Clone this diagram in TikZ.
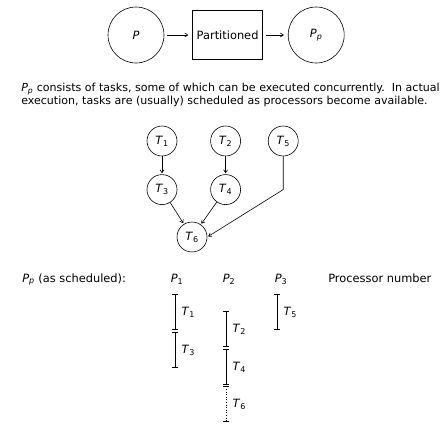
\documentclass[tikz,border=0pt]{standalone}
\usepackage{fontspec}
\setmainfont{DejaVu Sans}
\usepackage{tikz}
\usetikzlibrary{arrows.meta, positioning}

\newcommand{\lab}[2]{\textit{#1}\textsubscript{#2}}

\begin{document}
\begin{tikzpicture}[
  x=1pt, y=-1pt, line width=0.6pt,
  every node/.style={font=\fontsize{11.4}{12.5}\selectfont},
  proc/.style={draw, circle, minimum size=56pt, inner sep=0pt},
  part/.style={draw, rectangle, minimum width=70pt, minimum height=49pt},
  task/.style={draw, circle, minimum size=30pt, inner sep=0pt},
  flow/.style={-{Straight Barb[length=3pt,width=4pt]}, shorten <=3pt, shorten >=4pt},
  dep/.style={-{Straight Barb[length=3pt,width=4pt]}, shorten >=1pt},
  slot/.style={{Bar[width=6pt]}-{Bar[width=6pt]}}
]
\useasboundingbox (0,0) rectangle (447,437);

% program -> partitioned program
\node[proc] (P) at (136,35) {\textit{P}};
\node[part, right=28pt of P] (part) {Partitioned};
\node[proc, right=25pt of part] (Pp) {\lab{P}{\textit{p}}};
\draw[flow] (P) -- (part);
\draw[flow] (part) -- (Pp);

\node[anchor=north west, align=left, inner sep=0pt,
      font=\fontsize{11.05}{12.5}\selectfont] (desc) at (21,83) {%
\lab{P}{\textit{p}} consists of tasks, some of which can be executed concurrently.\ \ In actual\\
execution, tasks are (usually) scheduled as processors become available.};

% task graph
\node[task] (T1) at (162,141) {\lab{T}{1}};
\node[task, right=33pt of T1] (T2) {\lab{T}{2}};
\node[task, right=27pt of T2] (T5) {\lab{T}{5}};
\node[task, below=18pt of T1] (T3) {\lab{T}{3}};
\node[task, below=18pt of T2] (T4) {\lab{T}{4}};
\node[task] (T6) at (192,237) {\lab{T}{6}};
\coordinate (bend) at (T5 |- T4);

\draw[dep] (T1) -- (T3);
\draw[dep] (T2) -- (T4);
\draw[dep] (T3) -- (T6);
\draw[dep] (T4) -- (T6);
\draw[dep] (T5) -- (bend) -- (T6.east);

% schedule
\node[anchor=base west, inner sep=0pt] (sched) at (22,282) {\lab{P}{\textit{p}} (as scheduled):};
\node[anchor=base, inner sep=0pt] (P1) at (177,282) {\lab{P}{1}};
\node[anchor=base, inner sep=0pt] (P2) at (229,282) {\lab{P}{2}};
\node[anchor=base, inner sep=0pt] (P3) at (281,282) {\lab{P}{3}};
\node[anchor=base west, inner sep=0pt] (pnum) at (328,282) {Processor number};

\coordinate (a0) at (175,294);
\coordinate (a1) at (175,330);
\coordinate (a2) at (175,332);
\coordinate (a3) at (175,368);
\coordinate (b0) at (226,311);
\coordinate (b1) at (226,347);
\coordinate (b2) at (226,349);
\coordinate (b3) at (226,385);
\coordinate (b4) at (226,386);
\coordinate (b5) at (226,422);
\coordinate (c0) at (277,294);
\coordinate (c1) at (277,330);

\draw[slot] (a0) -- node[right=3pt] (s1) {\lab{T}{1}} (a1);
\draw[slot] (a2) -- node[right=3pt] (s3) {\lab{T}{3}} (a3);
\draw[slot] (b0) -- node[right=3pt] (s2) {\lab{T}{2}} (b1);
\draw[slot] (b2) -- node[right=3pt] (s4) {\lab{T}{4}} (b3);
\draw[slot, dotted] (b4) -- node[right=3pt] (s6) {\lab{T}{6}} (b5);
\draw[slot] (c0) -- node[right=3pt] (s5) {\lab{T}{5}} (c1);
\end{tikzpicture}
\end{document}
